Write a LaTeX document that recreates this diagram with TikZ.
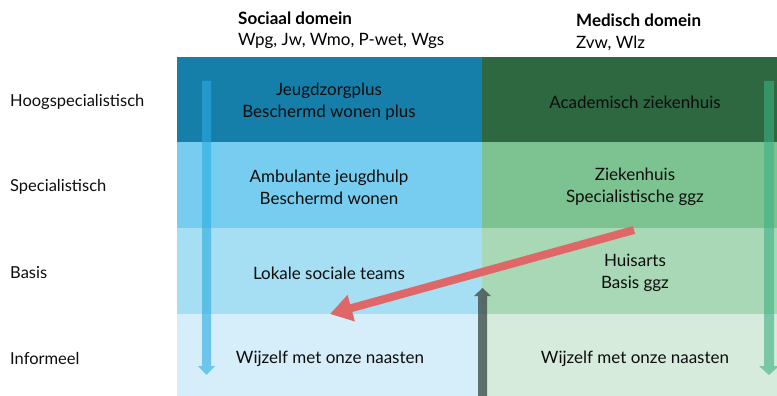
\documentclass[tikz,border=0pt]{standalone}
\usepackage{fontspec}
\setmainfont{Lato}
\usetikzlibrary{arrows.meta}
\definecolor{blueA}{RGB}{21,127,170}
\definecolor{blueB}{RGB}{119,205,240}
\definecolor{blueC}{RGB}{166,222,243}
\definecolor{blueD}{RGB}{213,238,249}
\definecolor{greenA}{RGB}{45,104,64}
\definecolor{greenB}{RGB}{125,195,145}
\definecolor{greenC}{RGB}{168,216,181}
\definecolor{greenD}{RGB}{214,235,219}
\definecolor{arrBlue}{RGB}{41,171,226}
\definecolor{arrGreen}{RGB}{60,176,131}
\definecolor{arrGrey}{RGB}{65,80,78}
\definecolor{arrRed}{RGB}{223,103,103}
\tikzset{
  txt/.style={font=\fontsize{17}{22}\selectfont, align=center, inner sep=0pt, text=black!95},
  lbl/.style={font=\fontsize{16.5}{22}\selectfont, anchor=west, inner sep=0pt, text=black!95},
  head/.style={font=\fontsize{17}{22}\selectfont\bfseries, anchor=west, inner sep=0pt},
  sub/.style={font=\fontsize{17}{22}\selectfont, anchor=west, inner sep=0pt},
}
\begin{document}
\begin{tikzpicture}[x=1pt,y=-1pt]
\useasboundingbox (0,0) rectangle (777,396);
% cells
\fill[blueA] (177,57) rectangle (482,142);
\fill[blueB] (177,142) rectangle (482,228);
\fill[blueC] (177,228) rectangle (482,314);
\fill[blueD] (177,314) rectangle (482,396);
\fill[greenA] (482,57) rectangle (777,142);
\fill[greenB] (482,142) rectangle (777,228);
\fill[greenC] (482,228) rectangle (777,314);
\fill[greenD] (482,314) rectangle (777,396);
% headers
\node[head] (hs) at (238,18) {Sociaal domein};
\node[sub] (ss) at (238,41) {Wpg, Jw, Wmo, P-wet, Wgs};
\node[head] (hm) at (576,20) {Medisch domein};
\node[sub] (sm) at (576,43) {Zvw, Wlz};
% row labels
\node[lbl] (l1) at (10,102) {Hoogspecialistisch};
\node[lbl] (l2) at (10,187) {Specialistisch};
\node[lbl] (l3) at (10,273) {Basis};
\node[lbl] (l4) at (10,358) {Informeel};
% arrows (vertical)
\fill[arrBlue, fill opacity=0.6] (202,81) -- (211,81) -- (211,366) -- (215,366) -- (206.5,375) -- (198,366) -- (202,366) -- cycle;
\fill[arrGreen, fill opacity=0.6] (764,81) -- (774,81) -- (774,366) -- (779,366) -- (769,375) -- (759,366) -- (764,366) -- cycle;
\fill[arrGrey, fill opacity=0.8] (478,396) -- (478,296) -- (474,296) -- (482.5,288) -- (491,296) -- (487,296) -- (487,396) -- cycle;
% cell texts
\node[txt] (c11) at (329,102) {Jeugdzorgplus\\Beschermd wonen plus};
\node[txt] (c12) at (635,102) {Academisch ziekenhuis};
\node[txt] (c21) at (329,187) {Ambulante jeugdhulp\\Beschermd wonen};
\node[txt] (c22) at (635,187) {Ziekenhuis\\Specialistische ggz};
\node[txt] (c31) at (329,273) {Lokale sociale teams};
\node[txt] (c32) at (635,273) {Huisarts\\Basis ggz};
\node[txt] (c41) at (330,359) {Wijzelf met onze naasten};
\node[txt] (c42) at (635,359) {Wijzelf met onze naasten};
% red arrow
\coordinate (rs) at (634,230);
\coordinate (re) at (330,314);
\draw[arrRed, line width=8pt, -{Triangle[length=22pt,width=26pt]}] (rs) -- (re);
\end{tikzpicture}
\end{document}
